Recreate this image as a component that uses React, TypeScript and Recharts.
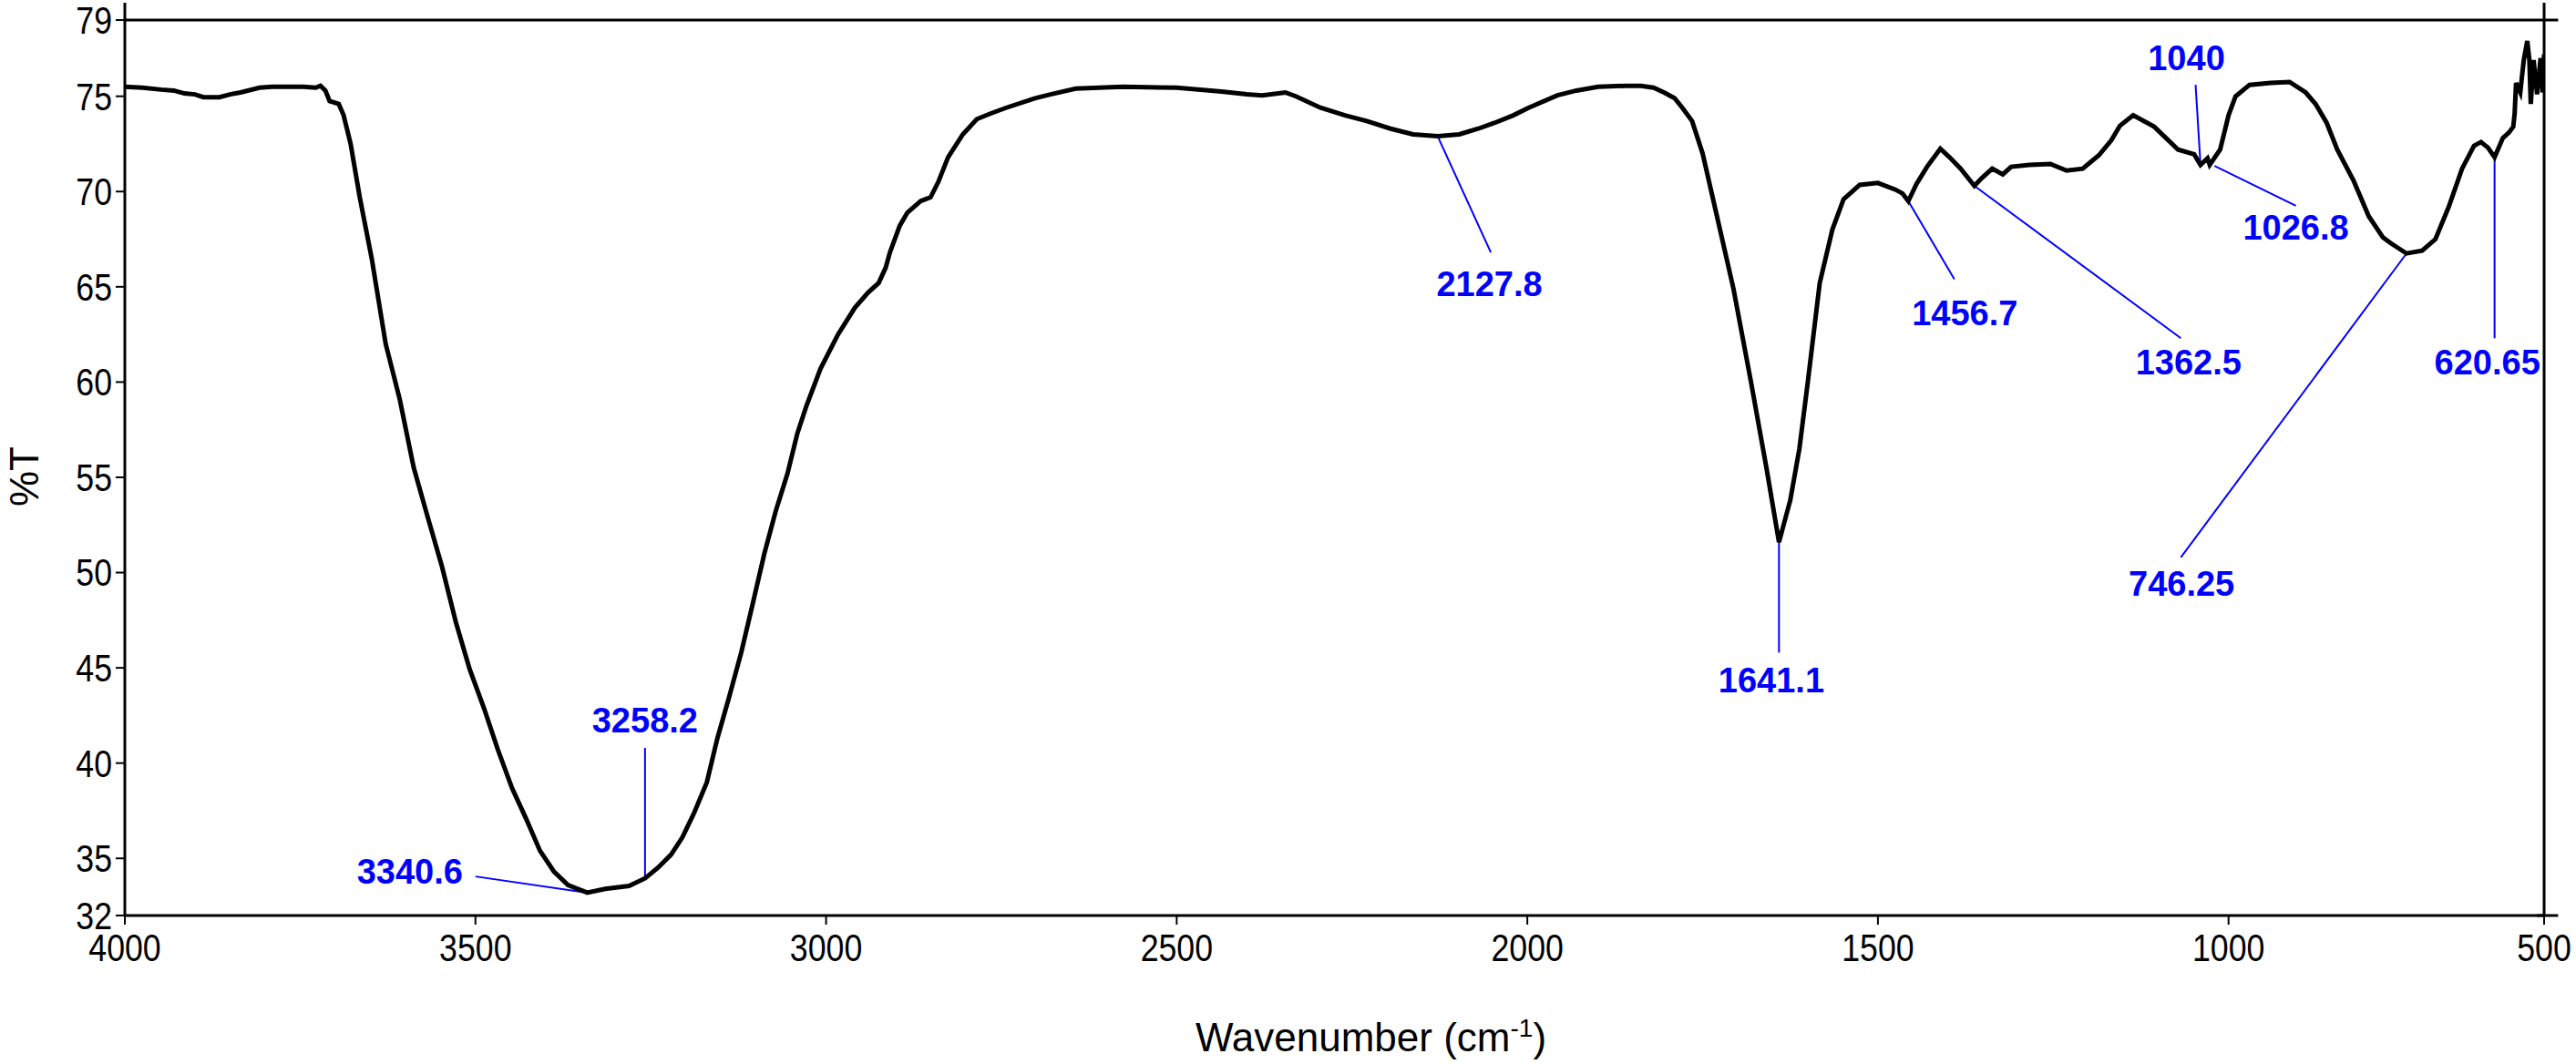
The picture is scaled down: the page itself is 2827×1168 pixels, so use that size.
import {
  ComposedChart,
  Line,
  Scatter,
  XAxis,
  YAxis,
  ReferenceLine,
  Label,
} from "recharts";

// FTIR trace, [wavenumber cm-1, %T]
const spectrum: [number, number][] = [
  [4000, 75.5], [3975, 75.45], [3948, 75.35], [3930, 75.3], [3915, 75.15],
  [3900, 75.1], [3888, 74.95], [3865, 74.95], [3850, 75.1], [3835, 75.2],
  [3808, 75.45], [3790, 75.5], [3768, 75.5], [3745, 75.5], [3728, 75.45],
  [3721, 75.55], [3714, 75.3], [3708, 74.75], [3695, 74.6], [3688, 74.0],
  [3678, 72.5], [3665, 69.7], [3648, 66.5], [3628, 62.0], [3608, 59.1],
  [3588, 55.5], [3568, 52.9], [3548, 50.35], [3528, 47.4], [3508, 44.9],
  [3488, 42.9], [3468, 40.7], [3448, 38.7], [3428, 37.1], [3408, 35.4],
  [3388, 34.3], [3368, 33.6], [3340.6, 33.2], [3315, 33.4], [3281, 33.55],
  [3258.2, 33.95], [3240, 34.5], [3221, 35.2], [3205, 36.1], [3188, 37.4],
  [3170, 39.0], [3155, 41.3], [3138, 43.5], [3121, 45.8], [3105, 48.3],
  [3088, 51.0], [3072, 53.2], [3055, 55.2], [3041, 57.3], [3028, 58.75],
  [3008, 60.7], [2983, 62.5], [2959, 63.9], [2940, 64.7], [2925, 65.2],
  [2915, 66.0], [2909, 66.8], [2895, 68.2], [2884, 68.9], [2865, 69.5],
  [2851, 69.7], [2840, 70.5], [2826, 71.8], [2805, 73.0], [2785, 73.8],
  [2765, 74.1], [2743, 74.4], [2702, 74.9], [2680, 75.1], [2644, 75.4],
  [2577, 75.5], [2500, 75.45], [2436, 75.25], [2400, 75.1], [2378, 75.05],
  [2345, 75.2], [2330, 75.0], [2295, 74.4], [2260, 74.0], [2229, 73.7],
  [2195, 73.3], [2163, 73.0], [2127.8, 72.9], [2097, 73.0], [2070, 73.3],
  [2047, 73.6], [2020, 74.0], [1998, 74.4], [1957, 75.05], [1930, 75.3],
  [1899, 75.5], [1860, 75.55], [1838, 75.55], [1820, 75.45], [1805, 75.2],
  [1790, 74.9], [1779, 74.4], [1765, 73.7], [1750, 72.0], [1732, 69.1],
  [1706, 64.9], [1681, 60.0], [1659, 55.5], [1641.1, 51.6], [1625, 53.8],
  [1612, 56.5], [1600, 60.0], [1583, 65.2], [1565, 68.0], [1549, 69.6],
  [1526, 70.35], [1500, 70.45], [1475, 70.1], [1465, 69.9], [1456.7, 69.5],
  [1445, 70.4], [1430, 71.3], [1411, 72.25], [1398, 71.8], [1382, 71.2],
  [1362.5, 70.3], [1352, 70.7], [1337, 71.2], [1322, 70.9], [1310, 71.3],
  [1284, 71.4], [1254, 71.45], [1231, 71.1], [1208, 71.2], [1185, 71.9],
  [1167, 72.7], [1155, 73.45], [1136, 74.0], [1106, 73.4], [1072, 72.2],
  [1049, 71.95], [1040, 71.4], [1030, 71.75], [1026.8, 71.4], [1012, 72.2],
  [1000, 74.0], [990, 75.0], [970, 75.6], [940, 75.7], [913, 75.75],
  [890, 75.2], [876, 74.6], [860, 73.6], [845, 72.2], [822, 70.6],
  [800, 68.7], [780, 67.6], [769, 67.3], [746.25, 66.75], [724, 66.9],
  [705, 67.5], [686, 69.2], [667, 71.2], [650, 72.4], [640, 72.6],
  [630, 72.3], [620.65, 71.8], [609, 72.8], [600, 73.1], [594, 73.4],
  [592, 74.1], [590, 75.7], [584, 75.2], [579, 76.9], [574, 77.9],
  [571, 76.9], [569, 74.6], [565, 76.9], [560, 75.1], [555, 77.0],
  [552, 75.2], [550, 77.2],
];

// peak labels: text, leader from [x1,y1] to [x2,y2], text anchored at [lx,ly]
const peaks = [
  { text: "3340.6", x1: 3340.6, y1: 33.2, x2: 3500, y2: 34.05, lx: 3518, ly: 33.65, anchor: "end" },
  { text: "3258.2", x1: 3258.2, y1: 33.95, x2: 3258.2, y2: 40.8, lx: 3258.2, ly: 41.6, anchor: "middle" },
  { text: "2127.8", x1: 2127.8, y1: 72.9, x2: 2052, y2: 66.8, lx: 2054, ly: 64.5, anchor: "middle" },
  { text: "1641.1", x1: 1641.1, y1: 51.6, x2: 1641.1, y2: 45.8, lx: 1652, ly: 43.7, anchor: "middle" },
  { text: "1456.7", x1: 1456.7, y1: 69.5, x2: 1391, y2: 65.4, lx: 1376, ly: 63.0, anchor: "middle" },
  { text: "1362.5", x1: 1362.5, y1: 70.3, x2: 1068, y2: 62.3, lx: 1057, ly: 60.4, anchor: "middle" },
  { text: "1040", x1: 1047, y1: 75.6, x2: 1040, y2: 71.4, lx: 1060, ly: 76.35, anchor: "middle" },
  { text: "1026.8", x1: 1020, y1: 71.35, x2: 904, y2: 69.25, lx: 904, ly: 67.5, anchor: "middle" },
  { text: "746.25", x1: 746.25, y1: 66.75, x2: 1068, y2: 50.8, lx: 1067, ly: 48.8, anchor: "middle" },
  { text: "620.65", x1: 620.65, y1: 71.8, x2: 620.65, y2: 62.3, lx: 631, ly: 60.4, anchor: "middle" },
];

const xTicks = [4000, 3500, 3000, 2500, 2000, 1500, 1000, 550];
const xTickLabels = ["4000", "3500", "3000", "2500", "2000", "1500", "1000", "500"];
const yTicks = [32, 35, 40, 45, 50, 55, 60, 65, 70, 75, 79];

const data = spectrum.map(([wn, t]) => ({ wn, t }));
const labelData = peaks.map((p) => ({ wn: p.lx, t: p.ly, text: p.text, anchor: p.anchor }));

const labelFont = "'Liberation Sans', Arial, sans-serif";

// tick numbers in the scan are condensed, so squeeze them a bit
const XTick = (props: any) => {
  const { x, y, payload } = props;
  return (
    <text
      transform={`translate(${x},${y}) scale(0.85,1)`}
      textAnchor="middle"
      dy="0.71em"
      fontSize={42}
      fontFamily={labelFont}
      fill="#000"
    >
      {xTickLabels[xTicks.indexOf(payload.value)]}
    </text>
  );
};

const YTick = (props: any) => {
  const { x, y, payload } = props;
  return (
    <text
      transform={`translate(${x},${y}) scale(0.85,1)`}
      textAnchor="end"
      dy="0.355em"
      fontSize={42}
      fontFamily={labelFont}
      fill="#000"
    >
      {payload.value}
    </text>
  );
};

const PeakText = (props: any) => {
  const { cx, cy, payload } = props;
  return (
    <text
      x={cx}
      y={cy}
      textAnchor={payload.anchor}
      fill="#0000ff"
      fontSize={38}
      fontWeight="bold"
      fontFamily={labelFont}
    >
      {payload.text}
    </text>
  );
};

const App = () => {
  return (
    <div style={{ position: "absolute", left: 0, top: 0, background: "#fff" }}>
      <ComposedChart
        width={2827}
        height={1168}
        data={data}
        margin={{ top: 3, right: 34, bottom: 93, left: 57 }}
      >
        <XAxis
          dataKey="wn"
          type="number"
          domain={[550, 4000]}
          reversed
          allowDataOverflow
          ticks={xTicks}
          height={70}
          tickSize={10}
          tickMargin={10}
          axisLine={{ stroke: "#000", strokeWidth: 3 }}
          tickLine={{ stroke: "#000", strokeWidth: 2 }}
          tick={<XTick />}
        >
          <Label
            content={({ viewBox }: any) => (
              <text
                x={viewBox.x + viewBox.width / 2 + 40}
                y={1154}
                textAnchor="middle"
                fontSize={44}
                fontFamily={labelFont}
                fill="#000"
              >
                Wavenumber (cm
                <tspan dy={-16} fontSize={28}>-1</tspan>
                <tspan dy={16}>)</tspan>
              </text>
            )}
          />
        </XAxis>
        <YAxis
          type="number"
          domain={[32, 79.91]}
          allowDataOverflow
          ticks={yTicks}
          width={80}
          tickSize={10}
          tickMargin={4}
          axisLine={{ stroke: "#000", strokeWidth: 3 }}
          tickLine={{ stroke: "#000", strokeWidth: 2 }}
          tick={<YTick />}
        >
          <Label
            content={() => (
              <text
                x={42}
                y={523}
                transform="rotate(-90, 42, 523)"
                textAnchor="middle"
                fontSize={44}
                fontFamily={labelFont}
                fill="#000"
              >
                %T
              </text>
            )}
          />
        </YAxis>
        <YAxis
          yAxisId="right"
          orientation="right"
          domain={[32, 79.91]}
          width={1}
          tick={false}
          tickLine={false}
          axisLine={{ stroke: "#000", strokeWidth: 3 }}
        />
        <ReferenceLine
          segment={[{ x: 4000, y: 79 }, { x: 530, y: 79 }]}
          stroke="#000"
          strokeWidth={3}
          ifOverflow="visible"
        />
        <ReferenceLine
          segment={[{ x: 560, y: 32 }, { x: 530, y: 32 }]}
          stroke="#000"
          strokeWidth={3}
          ifOverflow="visible"
        />
        {peaks.map((p) => (
          <ReferenceLine
            key={p.text}
            segment={[{ x: p.x1, y: p.y1 }, { x: p.x2, y: p.y2 }]}
            stroke="#0000ff"
            strokeWidth={2}
            ifOverflow="visible"
          />
        ))}
        <Line
          type="linear"
          dataKey="t"
          stroke="#000"
          strokeWidth={5}
          dot={false}
          isAnimationActive={false}
        />
        <Scatter data={labelData} dataKey="t" shape={PeakText} isAnimationActive={false} />
      </ComposedChart>
    </div>
  );
};

export default App;
